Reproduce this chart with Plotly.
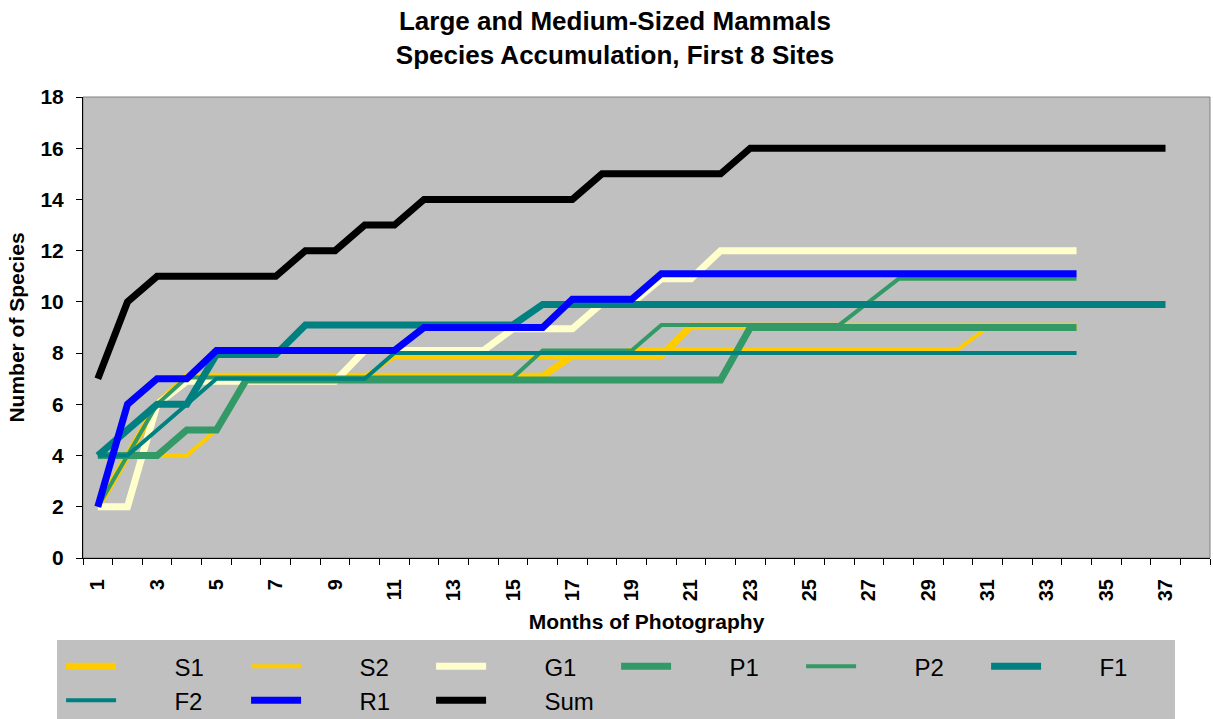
import plotly.graph_objects as go

# ---- data ----
months = [1, 2, 3, 4, 5, 6, 7, 8, 9, 10, 11, 12, 13, 14, 15, 16, 17, 18, 19,
          20, 21, 22, 23, 24, 25, 26, 27, 28, 29, 30, 31, 32, 33, 34, 35, 36, 37]
tick_labels = ["1", "3", "5", "7", "9", "11", "13", "15", "17", "19", "21",
               "23", "25", "27", "29", "31", "33", "35", "37"]

S1 = [2, 4, 6, 7.1, 7.1, 7.1, 7.1, 7.1, 7.1, 7.1, 7.1, 7.1, 7.1, 7.1, 7.1, 7.1,
      7.9, 7.9, 7.9, 7.9, 9.05, 9.05, 9.05, 9.05, 9.05, 9.05, 9.05, 9.05, 9.05,
      9.05, 9.05, 9.05, 9.05, 9.05]
S2 = [2, 4, 4, 4, 5, 7.1, 7.1, 7.1, 7.1, 7.1, 7.85, 7.85, 7.85, 7.85, 7.85,
      7.85, 7.85, 7.85, 8.15, 8.15, 8.15, 8.15, 8.15, 8.15, 8.15, 8.15, 8.15,
      8.15, 8.15, 8.15, 9, 9, 9, 9]
G1 = [2, 2, 6, 6.9, 6.9, 6.9, 6.9, 6.9, 6.9, 8.1, 8.1, 8.1, 8.1, 8.1, 8.95,
      8.95, 8.95, 9.95, 9.95, 10.9, 10.9, 12, 12, 12, 12, 12, 12, 12, 12, 12,
      12, 12, 12, 12]
P1 = [4, 4, 4, 5, 5, 6.95, 6.95, 6.95, 6.95, 6.95, 6.95, 6.95, 6.95, 6.95,
      6.95, 6.95, 6.95, 6.95, 6.95, 6.95, 6.95, 6.95, 9, 9, 9, 9, 9, 9, 9, 9,
      9, 9, 9, 9]
P2 = [2, 4, 6, 7.05, 7.05, 7.05, 7.05, 7.05, 7.05, 7.05, 7.05, 7.05, 7.05,
      7.05, 7.05, 8.1, 8.1, 8.1, 8.1, 9.1, 9.1, 9.1, 9.1, 9.1, 9.1, 9.1, 10,
      10.9, 10.9, 10.9, 10.9, 10.9, 10.9, 10.9]
F1 = [4, 5, 6, 6, 7.95, 7.95, 7.95, 9.1, 9.1, 9.1, 9.1, 9.1, 9.1, 9.1, 9.1,
      9.9, 9.9, 9.9, 9.9, 9.9, 9.9, 9.9, 9.9, 9.9, 9.9, 9.9, 9.9, 9.9, 9.9,
      9.9, 9.9, 9.9, 9.9, 9.9, 9.9, 9.9, 9.9]
F2 = [4, 4, 5, 6, 7, 7, 7, 7, 7, 7, 8, 8, 8, 8, 8, 8, 8, 8, 8, 8, 8, 8, 8, 8,
      8, 8, 8, 8, 8, 8, 8, 8, 8, 8]
R1 = [2, 6, 7, 7, 8.1, 8.1, 8.1, 8.1, 8.1, 8.1, 8.1, 9, 9, 9, 9, 9, 10.1,
      10.1, 10.1, 11.1, 11.1, 11.1, 11.1, 11.1, 11.1, 11.1, 11.1, 11.1, 11.1,
      11.1, 11.1, 11.1, 11.1, 11.1]
SUM = [7, 10, 11, 11, 11, 11, 11, 12, 12, 13, 13, 14, 14, 14, 14, 14, 14, 15,
       15, 15, 15, 15, 16, 16, 16, 16, 16, 16, 16, 16, 16, 16, 16, 16, 16, 16, 16]

series_names = ["S1", "S2", "G1", "P1", "P2", "F1", "F2", "R1", "Sum"]
series_values = [S1, S2, G1, P1, P2, F1, F2, R1, SUM]

# ---- styles ----
colors = ["#FFCC00", "#FFCC00", "#FFFFCC", "#339966", "#339966",
          "#008080", "#008080", "#0000FF", "#000000"]
widths = [7, 4, 7, 7, 4, 7, 4, 7, 7]

FONT = "Liberation Sans, Arial, sans-serif"
PAD = "\u00a0" * 8  # gap between legend line sample and its label

fig = go.Figure()
for name, vals, col, w in zip(series_names, series_values, colors, widths):
    fig.add_trace(go.Scatter(
        x=months[:len(vals)], y=vals, name=PAD + name, mode="lines",
        line=dict(color=col, width=w),
        hovertemplate=name + ": %{y}<extra></extra>",
    ))

tick_vals = [int(t) for t in tick_labels]

fig.update_layout(
    width=1213, height=719,
    paper_bgcolor="white", plot_bgcolor="#C0C0C0",
    margin=dict(l=83, r=3, t=97, b=161, autoexpand=False),
    font=dict(family=FONT, color="black"),
    title=dict(
        text="Large and Medium-Sized Mammals<br>Species Accumulation, First 8 Sites",
        x=0.507, xref="container", xanchor="center",
        y=0.958, yref="container", yanchor="top",
        font=dict(family=FONT, size=26, weight="bold", color="black"),
    ),
    xaxis=dict(
        range=[0.5, len(months) + 1.5],
        tickmode="array", tickvals=tick_vals, ticktext=tick_labels,
        tickangle=-90, ticks="", showgrid=False, zeroline=False,
        showline=True, linecolor="black", linewidth=1,
        tickfont=dict(family=FONT, size=20, weight="bold", color="black"),
        ticklabelstandoff=12,
        minor=dict(ticks="outside", tick0=0.5, dtick=1, ticklen=6,
                   tickcolor="black", tickwidth=1, showgrid=False),
        title=dict(text="Months of Photography", standoff=14,
                   font=dict(family=FONT, size=21, weight="bold", color="black")),
    ),
    yaxis=dict(
        range=[0, 18], tick0=0, dtick=2, ticks="outside", ticklen=6,
        tickcolor="black", tickwidth=1, showgrid=False, zeroline=False,
        showline=True, linecolor="black", linewidth=1,
        tickfont=dict(family=FONT, size=21, weight="bold", color="black"),
        ticklabelstandoff=8,
        title=dict(text="Number of Species", standoff=10,
                   font=dict(family=FONT, size=21, weight="bold", color="black")),
    ),
    legend=dict(
        orientation="h", x=-0.023, y=-0.178, xanchor="left", yanchor="top",
        bgcolor="#C0C0C0", bordercolor="#C0C0C0", borderwidth=4,
        font=dict(family=FONT, size=24, color="black"),
        itemwidth=50, entrywidth=120, entrywidthmode="pixels",
        traceorder="normal",
    ),
    shapes=[dict(type="rect", xref="paper", yref="paper", x0=0, y0=0, x1=1, y1=1,
                 line=dict(color="#808080", width=1), layer="below")],
)

fig.write_html("out.html", config={"displayModeBar": False})

with open("out.html", "r", encoding="utf-8") as fh:
    html = fh.read()
html = html.replace("<body>", '<body style="margin:0;overflow:hidden">', 1)
with open("out.html", "w", encoding="utf-8") as fh:
    fh.write(html)
